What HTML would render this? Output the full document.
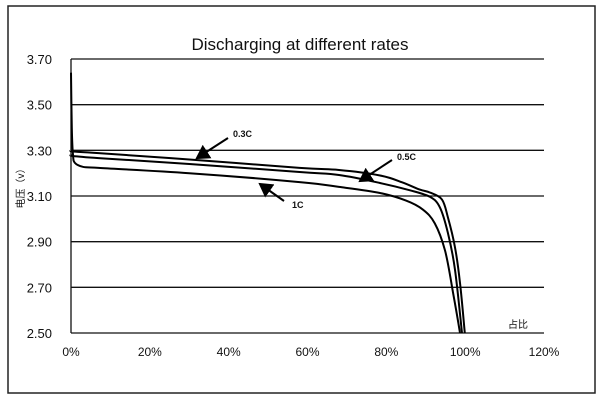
<!DOCTYPE html>
<html><head><meta charset="utf-8"><style>
body{margin:0;background:#fff;}
svg{display:block;font-family:"Liberation Sans","Noto Sans CJK SC",sans-serif;}
</style></head><body>
<svg id="chart" width="600" height="400">
<rect x="8" y="6" width="587" height="387" fill="#fff" stroke="#222" stroke-width="1.5"/>
<text x="300" y="50" text-anchor="middle" font-size="17" fill="#111">Discharging at different rates</text>
<text transform="translate(24,186) rotate(-90)" text-anchor="middle" font-size="10" fill="#111">电压（v）</text>
<text x="518" y="328" text-anchor="middle" font-size="10" fill="#111">占比</text>
<g id="grid"></g><g id="series"></g><g id="ann"></g>
</svg>
<script>
const yTicks=[2.5,2.7,2.9,3.1,3.3,3.5,3.7];
const xTicks=[0,20,40,60,80,100,120];
const pct03=[0,0.5,7,30,58,68,78.4,84,88.5,91.1,94.1,95.6,97.4,98.7,99.9];
const v03=[3.30,3.295,3.288,3.26,3.223,3.214,3.19,3.16,3.128,3.115,3.085,3.008,2.877,2.719,2.50];
const pct05=[0,0.5,7,30,58,68,78.4,86,91.1,93.6,95.6,97.4,99.2];
const v05=[3.28,3.275,3.266,3.24,3.205,3.192,3.157,3.125,3.096,3.05,2.94,2.78,2.50];
const pct1=[0,0.2,0.5,1,3,7,30,58,68,78.4,85,89.3,92.3,94.9,96.9,98.7];
const v1=[3.64,3.40,3.28,3.245,3.228,3.223,3.20,3.161,3.14,3.113,3.08,3.04,2.98,2.86,2.68,2.50];
const X=p=>71+p/120*473, Y=v=>333-(v-2.5)/1.2*274;
const NS="http://www.w3.org/2000/svg";
function mk(tag,attrs,parent){const e=document.createElementNS(NS,tag);for(const k in attrs)e.setAttribute(k,attrs[k]);parent.appendChild(e);return e;}
function smooth(pts){let d='M'+pts[0][0].toFixed(1)+','+pts[0][1].toFixed(1);
 for(let i=0;i<pts.length-1;i++){const p0=pts[Math.max(0,i-1)],p1=pts[i],p2=pts[i+1],p3=pts[Math.min(pts.length-1,i+2)];
  const c1=[p1[0]+(p2[0]-p0[0])/6,p1[1]+(p2[1]-p0[1])/6],c2=[p2[0]-(p3[0]-p1[0])/6,p2[1]-(p3[1]-p1[1])/6];
  d+=' C'+c1.map(n=>n.toFixed(1)).join(',')+' '+c2.map(n=>n.toFixed(1)).join(',')+' '+p2[0].toFixed(1)+','+p2[1].toFixed(1);}
 return d;}
const g=document.getElementById('grid');
yTicks.forEach(v=>{
 const l=mk('line',{x1:X(0),x2:X(120),y1:Y(v),y2:Y(v),stroke:'#111','stroke-width':1.3},g);
 
 
 const t=mk('text',{x:52,y:Y(v)+5,'text-anchor':'end','font-size':13,fill:'#111'},g);
 t.textContent=v.toFixed(2);
 
 
});
const ax=mk('line',{x1:X(0),x2:X(0),y1:Y(3.7),y2:Y(2.5),stroke:'#111','stroke-width':1.3},g);


xTicks.forEach(p=>{
 const t=mk('text',{x:X(p),y:356,'text-anchor':'middle','font-size':12,fill:'#111'},g);
 t.textContent=p+'%';
 
 
});
const s=document.getElementById('series');
[[pct03,v03,'series-0-3c'],[pct05,v05,'series-0-5c'],[pct1,v1,'series-1c']].forEach(([px,vy,n])=>{
 const pts=px.map((p,i)=>[X(p),Y(vy[i])]);
 const path=mk('path',{d:smooth(pts),fill:'none',stroke:'#000','stroke-width':2,'stroke-linejoin':'round'},s);
 
 
});
const a=document.getElementById('ann');
mk('defs',{},a).innerHTML='<marker id="ah" markerWidth="8" markerHeight="8" refX="6" refY="4" orient="auto"><path d="M0,0 L7,4 L0,8 z" fill="#000"/></marker>';
[['0.3C',233,137,228,138,197,158],['0.5C',397,160,392,160,360,181],['1C',292,208,284,201,260,184]].forEach(([lab,tx,ty,x1,y1,x2,y2])=>{
 const l=mk('line',{x1:x1,y1:y1,x2:x2,y2:y2,stroke:'#000','stroke-width':2,'marker-end':'url(#ah)'},a);
 
 
 const t=mk('text',{x:tx,y:ty,'font-size':9,'font-weight':'bold',fill:'#111'},a);
 t.textContent=lab;
 
 
});
</script>
</body></html>
